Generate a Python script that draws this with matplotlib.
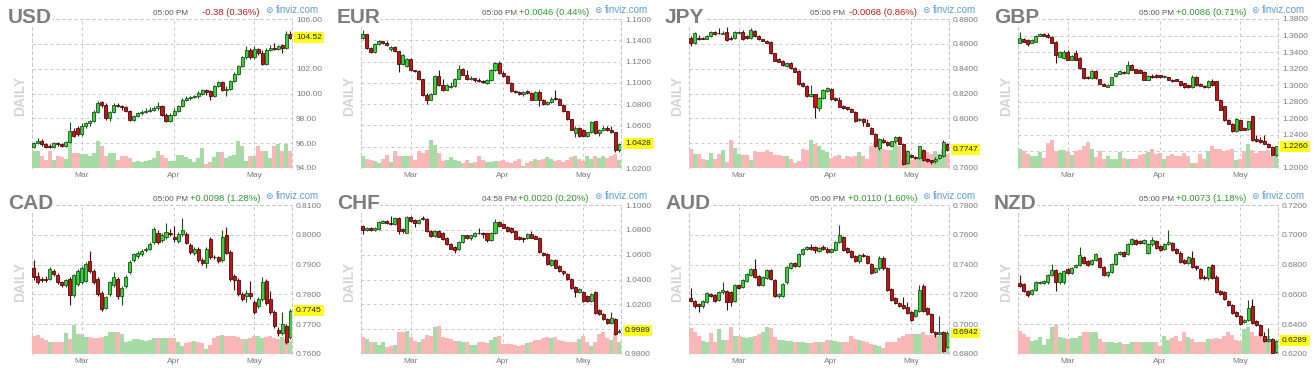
import matplotlib
matplotlib.use("Agg")
import matplotlib.pyplot as plt

W, H = 1315, 376
plt.rcParams['font.family'] = ['Liberation Sans', 'DejaVu Sans']

# ---------------- data ----------------
months = ["Mar", "Apr", "May"]
month_pos = [12, 35, 55]          # candle index of first trading day of month

names = ["USD", "EUR", "JPY", "GBP", "CAD", "CHF", "AUD", "NZD"]
times = ["05:00 PM", "05:00 PM", "05:00 PM", "05:00 PM",
         "05:00 PM", "04:58 PM", "05:00 PM", "05:00 PM"]
changes = ["-0.38 (0.36%)", "+0.0046 (0.44%)", "-0.0068 (0.86%)", "+0.0086 (0.71%)",
           "+0.0098 (1.28%)", "+0.0020 (0.20%)", "+0.0110 (1.60%)", "+0.0073 (1.18%)"]
last_labels = ["104.52", "1.0428", "0.7747", "1.2260", "0.7745", "0.9989", "0.6942", "0.6289"]

usd_ticks = [94, 96, 98, 100, 102, 104, 106]
eur_ticks = [1.02, 1.04, 1.06, 1.08, 1.10, 1.12, 1.14, 1.16]
jpy_ticks = [0.76, 0.78, 0.80, 0.82, 0.84, 0.86, 0.88]
gbp_ticks = [1.20, 1.22, 1.24, 1.26, 1.28, 1.30, 1.32, 1.34, 1.36, 1.38]
cad_ticks = [0.76, 0.77, 0.78, 0.79, 0.80, 0.81]
chf_ticks = [0.98, 1.00, 1.02, 1.04, 1.06, 1.08, 1.10]
aud_ticks = [0.68, 0.70, 0.72, 0.74, 0.76, 0.78]
nzd_ticks = [0.62, 0.64, 0.66, 0.68, 0.70, 0.72]
tick_decimals = [2, 4, 4, 4, 4, 4, 4, 4]

# (open, high, low, close)
usd_ohlc = [
(95.7,96.1,95.6,96.0),(96.0,96.4,95.9,96.2),(96.2,96.3,95.8,95.9),(95.9,96.0,95.6,95.7),(95.8,95.9,95.6,95.7),
(95.7,96.1,95.6,96.0),(96.0,96.1,95.8,95.9),(95.9,96.0,95.7,95.8),(95.8,96.2,95.7,96.1),(96.1,97.7,96.0,97.0),
(97.0,97.2,96.5,96.6),(97.2,97.4,96.6,96.7),(96.7,97.6,96.6,97.4),(97.4,97.7,97.2,97.6),(97.6,97.9,97.4,97.8),
(97.8,98.7,97.7,98.5),(98.5,99.4,98.4,99.2),(99.3,99.4,98.9,99.1),(99.1,99.2,97.9,98.0),(98.0,98.6,97.8,98.5),
(98.5,99.2,98.4,99.1),(99.1,99.2,98.9,99.0),(99.0,99.1,98.7,98.9),(98.9,99.0,98.5,98.6),(98.6,98.7,97.8,97.9),
(97.9,98.3,97.8,98.2),(98.2,98.5,98.1,98.4),(98.4,98.7,98.3,98.5),(98.5,98.8,98.4,98.6),(98.6,98.9,98.5,98.7),
(98.7,99.0,98.6,98.8),(98.8,99.3,98.7,99.0),(99.0,99.1,98.2,98.3),(98.3,98.4,97.7,97.8),(97.8,98.4,97.7,98.3),
(98.3,98.8,98.2,98.6),(98.6,99.1,98.5,99.0),(99.0,99.6,98.9,99.5),(99.5,99.8,99.4,99.6),(99.6,99.8,99.5,99.7),
(99.7,99.9,99.6,99.8),(99.8,100.2,99.6,100.0),(100.0,100.4,99.9,100.3),(100.3,100.4,99.9,100.1),(100.2,100.3,99.5,99.8),
(99.8,100.7,99.7,100.6),(100.6,101.0,100.5,100.9),(100.9,101.0,100.2,100.3),(100.3,100.6,99.8,100.4),(100.4,101.1,100.3,101.0),
(101.0,101.7,100.9,101.6),(101.6,102.3,101.5,102.2),(102.2,103.0,102.1,102.9),(102.9,103.8,102.8,103.5),(103.5,103.7,102.8,102.9),
(102.9,103.8,102.8,103.6),(103.6,103.7,103.1,103.3),(103.3,103.5,102.3,102.4),(102.4,103.7,102.3,103.5),(103.5,103.9,103.4,103.7),
(103.7,104.1,103.5,103.6),(103.6,103.9,103.5,103.8),(103.9,104.0,103.3,103.7),(103.7,105.0,103.6,104.8),(104.8,105.0,104.4,104.5)]

eur_ohlc = [
(1.1425,1.1495,1.1415,1.1455),(1.1455,1.1460,1.1320,1.1325),(1.1325,1.1335,1.1280,1.1288),(1.1288,1.1375,1.1282,1.1365),(1.1365,1.1398,1.1358,1.1390),
(1.1390,1.1395,1.1365,1.1372),(1.1372,1.1392,1.1350,1.1356),(1.1318,1.1345,1.1300,1.1336),(1.1336,1.1342,1.1288,1.1295),(1.1295,1.1300,1.1106,1.1180),
(1.1180,1.1275,1.1172,1.1265),(1.1160,1.1230,1.1150,1.1225),(1.1225,1.1232,1.1110,1.1118),(1.1118,1.1125,1.1100,1.1112),(1.1112,1.1118,1.1025,1.1035),
(1.1035,1.1040,1.0880,1.0890),(1.0890,1.0905,1.0805,1.0840),(1.0840,1.0905,1.0835,1.0900),(1.0900,1.1075,1.0895,1.1065),(1.1065,1.1125,1.0970,1.0980),
(1.0980,1.1040,1.0925,1.0935),(1.0935,1.0985,1.0930,1.0978),(1.0965,1.1010,1.0955,1.0972),(1.0972,1.1045,1.0965,1.1040),(1.1040,1.1165,1.1035,1.1130),
(1.1130,1.1140,1.1070,1.1075),(1.1075,1.1120,1.1030,1.1035),(1.1035,1.1060,1.1030,1.1042),(1.1042,1.1050,1.1010,1.1028),(1.1028,1.1045,1.1005,1.1018),
(1.1018,1.1030,1.0995,1.1010),(1.1000,1.1040,1.0985,1.1025),(1.1025,1.1130,1.1020,1.1120),(1.1120,1.1200,1.1110,1.1190),(1.1190,1.1205,1.1080,1.1090),
(1.1090,1.1110,1.1055,1.1060),(1.1060,1.1070,1.0990,1.0998),(1.0998,1.1005,1.0915,1.0920),(1.0920,1.0935,1.0905,1.0913),(1.0913,1.0925,1.0890,1.0897),
(1.0897,1.0920,1.0880,1.0910),(1.0920,1.0932,1.0895,1.0903),(1.0903,1.0910,1.0835,1.0840),(1.0840,1.0925,1.0835,1.0910),(1.0910,1.0935,1.0780,1.0840),
(1.0840,1.0848,1.0795,1.0800),(1.0800,1.0825,1.0790,1.0820),(1.0820,1.0870,1.0815,1.0853),(1.0860,1.0935,1.0840,1.0847),(1.0847,1.0855,1.0790,1.0794),
(1.0794,1.0800,1.0725,1.0731),(1.0731,1.0740,1.0655,1.0660),(1.0660,1.0665,1.0555,1.0560),(1.0530,1.0590,1.0490,1.0575),(1.0575,1.0585,1.0495,1.0503),
(1.0560,1.0570,1.0498,1.0503),(1.0503,1.0540,1.0495,1.0534),(1.0534,1.0640,1.0525,1.0628),(1.0638,1.0645,1.0515,1.0528),(1.0528,1.0565,1.0500,1.0553),
(1.0553,1.0590,1.0545,1.0575),(1.0575,1.0590,1.0545,1.0553),(1.0553,1.0590,1.0525,1.0534),(1.0534,1.0540,1.0355,1.0366),(1.0366,1.0435,1.0350,1.0428)]

jpy_ohlc = [
(0.8645,0.8660,0.8585,0.8605),(0.8605,0.8695,0.8600,0.8685),(0.8650,0.8670,0.8630,0.8637),(0.8645,0.8655,0.8635,0.8640),(0.8640,0.8670,0.8635,0.8663),
(0.8663,0.8705,0.8655,0.8698),(0.8693,0.8705,0.8675,0.8682),(0.8690,0.8725,0.8680,0.8685),(0.8682,0.8700,0.8678,0.8690),(0.8698,0.8735,0.8625,0.8632),
(0.8650,0.8660,0.8630,0.8637),(0.8645,0.8705,0.8640,0.8698),(0.8690,0.8705,0.8685,0.8698),(0.8698,0.8710,0.8630,0.8637),(0.8663,0.8670,0.8640,0.8645),
(0.8645,0.8725,0.8640,0.8712),(0.8706,0.8715,0.8655,0.8663),(0.8663,0.8670,0.8630,0.8637),(0.8637,0.8642,0.8620,0.8626),(0.8626,0.8630,0.8605,0.8610),
(0.8618,0.8625,0.8520,0.8524),(0.8524,0.8530,0.8460,0.8465),(0.8476,0.8482,0.8450,0.8457),(0.8462,0.8470,0.8425,0.8430),(0.8425,0.8450,0.8415,0.8444),
(0.8444,0.8450,0.8400,0.8404),(0.8404,0.8410,0.8372,0.8377),(0.8382,0.8388,0.8272,0.8278),(0.8283,0.8290,0.8255,0.8262),(0.8262,0.8270,0.8175,0.8181),
(0.8181,0.8270,0.8175,0.8195),(0.8195,0.8200,0.8002,0.8095),(0.8082,0.8170,0.8060,0.8162),(0.8162,0.8240,0.8155,0.8229),(0.8224,0.8250,0.8215,0.8243),
(0.8235,0.8245,0.8150,0.8154),(0.8162,0.8170,0.8140,0.8149),(0.8149,0.8175,0.8090,0.8095),(0.8101,0.8108,0.8075,0.8082),(0.8090,0.8095,0.8065,0.8074),
(0.8074,0.8082,0.8048,0.8055),(0.8055,0.8062,0.7968,0.7975),(0.7983,0.8000,0.7975,0.7994),(0.7994,0.8000,0.7935,0.7967),(0.7962,0.7998,0.7935,0.7940),
(0.7921,0.7930,0.7870,0.7876),(0.7876,0.7882,0.7768,0.7774),(0.7761,0.7840,0.7745,0.7833),(0.7828,0.7840,0.7800,0.7806),(0.7806,0.7815,0.7780,0.7787),
(0.7774,0.7820,0.7768,0.7814),(0.7814,0.7860,0.7805,0.7849),(0.7849,0.7855,0.7790,0.7795),(0.7795,0.7802,0.7628,0.7635),(0.7640,0.7742,0.7632,0.7734),
(0.7707,0.7715,0.7682,0.7689),(0.7689,0.7695,0.7675,0.7680),(0.7680,0.7780,0.7672,0.7774),(0.7747,0.7755,0.7660,0.7667),(0.7672,0.7678,0.7650,0.7656),
(0.7662,0.7668,0.7630,0.7651),(0.7653,0.7690,0.7640,0.7672),(0.7680,0.7715,0.7672,0.7707),(0.7694,0.7825,0.7688,0.7806),(0.7795,0.7805,0.7740,0.7747)]

gbp_ohlc = [
(1.3515,1.3640,1.3505,1.3567),(1.3555,1.3570,1.3520,1.3527),(1.3547,1.3555,1.3470,1.3495),(1.3515,1.3555,1.3505,1.3547),(1.3527,1.3605,1.3520,1.3596),
(1.3596,1.3630,1.3590,1.3620),(1.3615,1.3630,1.3590,1.3596),(1.3607,1.3630,1.3570,1.3579),(1.3579,1.3590,1.3505,1.3515),(1.3527,1.3535,1.3270,1.3366),
(1.3346,1.3415,1.3335,1.3406),(1.3326,1.3430,1.3318,1.3406),(1.3406,1.3430,1.3300,1.3306),(1.3306,1.3360,1.3300,1.3354),(1.3394,1.3420,1.3300,1.3306),
(1.3326,1.3335,1.3200,1.3205),(1.3205,1.3210,1.3080,1.3085),(1.3105,1.3112,1.3078,1.3085),(1.3085,1.3185,1.3080,1.3177),(1.3177,1.3185,1.3080,1.3085),
(1.3073,1.3080,1.3010,1.3017),(1.3017,1.3022,1.2985,1.2992),(1.2984,1.3010,1.2978,1.3004),(1.3004,1.3105,1.2998,1.3097),(1.3113,1.3150,1.3105,1.3145),
(1.3137,1.3185,1.3130,1.3177),(1.3165,1.3172,1.3138,1.3145),(1.3145,1.3290,1.3140,1.3246),(1.3246,1.3252,1.3178,1.3185),(1.3193,1.3200,1.3148,1.3153),
(1.3185,1.3192,1.3148,1.3153),(1.3165,1.3172,1.3058,1.3065),(1.3065,1.3120,1.3060,1.3113),(1.3113,1.3130,1.3090,1.3097),(1.3125,1.3132,1.3090,1.3097),
(1.3121,1.3128,1.3090,1.3097),(1.3097,1.3125,1.3090,1.3113),(1.3097,1.3103,1.3058,1.3065),(1.3065,1.3070,1.3042,1.3049),(1.3073,1.3080,1.3046,1.3053),
(1.3045,1.3050,1.2996,1.3004),(1.3025,1.3032,1.2970,1.2976),(1.3004,1.3010,1.2970,1.2976),(1.2976,1.3125,1.2970,1.3097),(1.3105,1.3112,1.2996,1.3004),
(1.3017,1.3024,1.2986,1.2992),(1.2992,1.2998,1.2970,1.2976),(1.2976,1.3060,1.2970,1.3053),(1.3053,1.3080,1.2996,1.3004),(1.3045,1.3052,1.2818,1.2824),
(1.2824,1.2830,1.2696,1.2703),(1.2743,1.2750,1.2568,1.2575),(1.2583,1.2590,1.2527,1.2534),(1.2534,1.2540,1.2435,1.2442),(1.2442,1.2600,1.2435,1.2591),
(1.2575,1.2585,1.2455,1.2462),(1.2482,1.2490,1.2455,1.2462),(1.2470,1.2570,1.2462,1.2563),(1.2623,1.2630,1.2327,1.2334),(1.2350,1.2395,1.2315,1.2322),
(1.2334,1.2380,1.2300,1.2309),(1.2322,1.2400,1.2285,1.2293),(1.2293,1.2300,1.2245,1.2253),(1.2253,1.2260,1.2155,1.2161),(1.2161,1.2270,1.2150,1.2260)]

cad_ohlc = [
(0.7890,0.7915,0.7850,0.7857),(0.7862,0.7875,0.7835,0.7840),(0.7851,0.7860,0.7843,0.7848),(0.7853,0.7862,0.7843,0.7848),(0.7853,0.7892,0.7848,0.7885),
(0.7879,0.7885,0.7862,0.7868),(0.7865,0.7872,0.7835,0.7840),(0.7840,0.7845,0.7826,0.7831),(0.7831,0.7852,0.7826,0.7848),(0.7851,0.7858,0.7765,0.7798),
(0.7798,0.7870,0.7792,0.7865),(0.7834,0.7885,0.7828,0.7879),(0.7842,0.7895,0.7836,0.7890),(0.7846,0.7908,0.7840,0.7901),(0.7913,0.7945,0.7873,0.7879),
(0.7879,0.7885,0.7836,0.7842),(0.7851,0.7858,0.7795,0.7801),(0.7806,0.7812,0.7745,0.7751),(0.7756,0.7795,0.7750,0.7790),(0.7801,0.7845,0.7795,0.7840),
(0.7831,0.7875,0.7825,0.7860),(0.7851,0.7858,0.7786,0.7793),(0.7795,0.7828,0.7765,0.7823),(0.7829,0.7866,0.7822,0.7860),(0.7876,0.7914,0.7870,0.7909),
(0.7916,0.7940,0.7910,0.7935),(0.7929,0.7944,0.7922,0.7938),(0.7935,0.7952,0.7928,0.7946),(0.7949,0.7960,0.7942,0.7954),(0.7954,0.7975,0.7948,0.7968),
(0.7976,0.8025,0.7970,0.8019),(0.8007,0.8015,0.7970,0.7976),(0.7983,0.8005,0.7976,0.7999),(0.7991,0.8040,0.7985,0.8010),(0.8007,0.8020,0.7995,0.8002),
(0.7991,0.8030,0.7975,0.7987),(0.7979,0.8010,0.7972,0.8002),(0.8002,0.8055,0.7995,0.8016),(0.8002,0.8008,0.7968,0.7974),(0.7965,0.7972,0.7937,0.7943),
(0.7938,0.7958,0.7932,0.7952),(0.7952,0.7958,0.7910,0.7916),(0.7916,0.7922,0.7900,0.7907),(0.7907,0.7960,0.7888,0.7954),(0.7985,0.7992,0.7920,0.7927),
(0.7927,0.7933,0.7918,0.7924),(0.7924,0.7930,0.7906,0.7913),(0.7916,0.8015,0.7910,0.7994),(0.7998,0.8025,0.7934,0.7940),(0.7943,0.7950,0.7845,0.7851),
(0.7862,0.7868,0.7815,0.7849),(0.7849,0.7855,0.7795,0.7801),(0.7801,0.7808,0.7778,0.7784),(0.7795,0.7815,0.7775,0.7804),(0.7804,0.7845,0.7786,0.7793),
(0.7775,0.7782,0.7735,0.7742),(0.7762,0.7790,0.7755,0.7784),(0.7784,0.7860,0.7778,0.7842),(0.7846,0.7852,0.7765,0.7771),(0.7784,0.7810,0.7735,0.7742),
(0.7742,0.7748,0.7688,0.7695),(0.7681,0.7690,0.7660,0.7672),(0.7672,0.7740,0.7665,0.7700),(0.7695,0.7702,0.7634,0.7641),(0.7656,0.7752,0.7650,0.7745)]

chf_ohlc = [
(1.0831,1.0840,1.0765,1.0799),(1.0799,1.0822,1.0790,1.0818),(1.0818,1.0825,1.0792,1.0799),(1.0799,1.0820,1.0792,1.0815),(1.0804,1.0868,1.0798,1.0863),
(1.0858,1.0880,1.0852,1.0871),(1.0871,1.0878,1.0845,1.0853),(1.0858,1.0915,1.0838,1.0845),(1.0845,1.0905,1.0838,1.0898),(1.0898,1.0905,1.0770,1.0791),
(1.0810,1.0818,1.0775,1.0791),(1.0778,1.0912,1.0772,1.0906),(1.0906,1.0912,1.0862,1.0871),(1.0879,1.0885,1.0820,1.0858),(1.0853,1.0890,1.0846,1.0879),
(1.0898,1.0912,1.0878,1.0885),(1.0890,1.0898,1.0785,1.0791),(1.0791,1.0798,1.0745,1.0751),(1.0751,1.0798,1.0745,1.0791),(1.0791,1.0798,1.0740,1.0746),
(1.0778,1.0785,1.0722,1.0730),(1.0737,1.0745,1.0677,1.0684),(1.0684,1.0690,1.0642,1.0649),(1.0665,1.0672,1.0615,1.0638),(1.0644,1.0710,1.0638,1.0703),
(1.0703,1.0762,1.0696,1.0756),(1.0756,1.0762,1.0730,1.0737),(1.0737,1.0762,1.0720,1.0756),(1.0751,1.0784,1.0745,1.0778),(1.0778,1.0815,1.0765,1.0772),
(1.0778,1.0785,1.0735,1.0764),(1.0772,1.0778,1.0700,1.0719),(1.0719,1.0785,1.0712,1.0778),(1.0772,1.0885,1.0765,1.0863),(1.0863,1.0870,1.0825,1.0831),
(1.0845,1.0852,1.0812,1.0818),(1.0826,1.0832,1.0785,1.0791),(1.0818,1.0825,1.0776,1.0783),(1.0791,1.0798,1.0724,1.0730),(1.0746,1.0752,1.0718,1.0724),
(1.0738,1.0745,1.0700,1.0730),(1.0738,1.0775,1.0730,1.0764),(1.0764,1.0790,1.0731,1.0738),(1.0751,1.0758,1.0724,1.0730),(1.0738,1.0745,1.0615,1.0622),
(1.0617,1.0624,1.0590,1.0596),(1.0604,1.0610,1.0516,1.0523),(1.0515,1.0565,1.0508,1.0558),(1.0558,1.0565,1.0489,1.0496),(1.0510,1.0517,1.0463,1.0470),
(1.0470,1.0476,1.0440,1.0451),(1.0443,1.0450,1.0396,1.0403),(1.0403,1.0410,1.0321,1.0328),(1.0336,1.0345,1.0260,1.0301),(1.0301,1.0330,1.0294,1.0322),
(1.0301,1.0308,1.0222,1.0229),(1.0269,1.0276,1.0222,1.0229),(1.0229,1.0290,1.0222,1.0282),(1.0301,1.0310,1.0122,1.0129),(1.0156,1.0163,1.0114,1.0121),
(1.0121,1.0128,1.0074,1.0081),(1.0081,1.0088,1.0042,1.0049),(1.0049,1.0140,1.0042,1.0087),(1.0081,1.0088,0.9954,0.9961),(0.9974,1.0000,0.9966,0.9989)]

aud_ohlc = [
(0.7173,0.7245,0.7150,0.7157),(0.7157,0.7165,0.7112,0.7119),(0.7135,0.7142,0.7085,0.7119),(0.7119,0.7162,0.7112,0.7157),(0.7150,0.7214,0.7143,0.7208),
(0.7202,0.7210,0.7185,0.7191),(0.7195,0.7202,0.7150,0.7157),(0.7164,0.7223,0.7157,0.7217),(0.7213,0.7285,0.7206,0.7231),(0.7224,0.7231,0.7097,0.7146),
(0.7217,0.7224,0.7120,0.7150),(0.7157,0.7268,0.7150,0.7262),(0.7262,0.7270,0.7233,0.7240),(0.7253,0.7304,0.7246,0.7298),(0.7291,0.7342,0.7284,0.7336),
(0.7329,0.7375,0.7322,0.7369),(0.7369,0.7440,0.7313,0.7320),(0.7325,0.7332,0.7255,0.7262),(0.7262,0.7326,0.7255,0.7320),(0.7313,0.7371,0.7306,0.7365),
(0.7365,0.7372,0.7295,0.7302),(0.7298,0.7305,0.7184,0.7191),(0.7191,0.7208,0.7175,0.7202),(0.7191,0.7275,0.7184,0.7269),(0.7280,0.7393,0.7273,0.7387),
(0.7380,0.7415,0.7373,0.7409),(0.7409,0.7416,0.7384,0.7391),(0.7391,0.7476,0.7384,0.7470),(0.7470,0.7514,0.7463,0.7508),(0.7503,0.7527,0.7496,0.7521),
(0.7521,0.7540,0.7501,0.7508),(0.7521,0.7528,0.7480,0.7499),(0.7492,0.7520,0.7485,0.7514),(0.7521,0.7530,0.7500,0.7508),(0.7508,0.7515,0.7478,0.7485),
(0.7485,0.7509,0.7478,0.7503),(0.7499,0.7558,0.7492,0.7552),(0.7552,0.7665,0.7545,0.7597),(0.7588,0.7595,0.7492,0.7499),(0.7514,0.7521,0.7478,0.7485),
(0.7492,0.7499,0.7447,0.7454),(0.7458,0.7465,0.7418,0.7425),(0.7425,0.7470,0.7410,0.7463),(0.7465,0.7475,0.7448,0.7458),(0.7458,0.7465,0.7402,0.7409),
(0.7403,0.7410,0.7335,0.7342),(0.7351,0.7386,0.7344,0.7380),(0.7374,0.7455,0.7367,0.7447),(0.7447,0.7460,0.7367,0.7374),(0.7374,0.7381,0.7224,0.7231),
(0.7235,0.7242,0.7157,0.7164),(0.7173,0.7180,0.7135,0.7142),(0.7142,0.7149,0.7117,0.7124),(0.7128,0.7180,0.7099,0.7106),(0.7113,0.7150,0.7068,0.7075),
(0.7079,0.7086,0.7023,0.7030),(0.7052,0.7103,0.7045,0.7097),(0.7090,0.7265,0.7083,0.7231),(0.7258,0.7272,0.7083,0.7090),(0.7106,0.7113,0.7061,0.7068),
(0.7068,0.7075,0.6943,0.6950),(0.6945,0.6952,0.6915,0.6934),(0.6934,0.7055,0.6927,0.6950),(0.6950,0.6957,0.6815,0.6822),(0.6845,0.6955,0.6838,0.6942)]

nzd_ohlc = [
(0.6675,0.6730,0.6650,0.6658),(0.6669,0.6676,0.6617,0.6624),(0.6624,0.6631,0.6585,0.6595),(0.6602,0.6638,0.6595,0.6631),(0.6631,0.6687,0.6624,0.6680),
(0.6675,0.6691,0.6668,0.6684),(0.6675,0.6698,0.6668,0.6691),(0.6680,0.6736,0.6673,0.6729),(0.6729,0.6805,0.6722,0.6765),(0.6765,0.6772,0.6625,0.6680),
(0.6680,0.6749,0.6673,0.6742),(0.6680,0.6765,0.6673,0.6758),(0.6769,0.6776,0.6735,0.6742),(0.6742,0.6781,0.6735,0.6774),(0.6781,0.6804,0.6774,0.6797),
(0.6797,0.6920,0.6790,0.6863),(0.6854,0.6861,0.6802,0.6809),(0.6825,0.6832,0.6790,0.6797),(0.6803,0.6839,0.6796,0.6832),(0.6832,0.6877,0.6825,0.6870),
(0.6847,0.6854,0.6779,0.6786),(0.6786,0.6793,0.6722,0.6729),(0.6729,0.6758,0.6715,0.6751),(0.6751,0.6810,0.6744,0.6803),(0.6803,0.6877,0.6796,0.6870),
(0.6870,0.6892,0.6863,0.6885),(0.6885,0.6892,0.6851,0.6858),(0.6870,0.6944,0.6863,0.6937),(0.6937,0.6977,0.6930,0.6970),(0.6966,0.6973,0.6930,0.6937),
(0.6959,0.6966,0.6936,0.6943),(0.6943,0.6973,0.6936,0.6966),(0.6875,0.6942,0.6868,0.6935),(0.6935,0.6985,0.6928,0.6966),(0.6959,0.6966,0.6907,0.6914),
(0.6925,0.6932,0.6892,0.6899),(0.6908,0.6944,0.6901,0.6937),(0.6937,0.7030,0.6930,0.6952),(0.6943,0.6950,0.6892,0.6899),(0.6903,0.6910,0.6874,0.6881),
(0.6881,0.6888,0.6811,0.6818),(0.6832,0.6839,0.6802,0.6809),(0.6809,0.6861,0.6802,0.6854),(0.6847,0.6890,0.6774,0.6781),(0.6792,0.6799,0.6767,0.6774),
(0.6769,0.6776,0.6706,0.6713),(0.6720,0.6727,0.6700,0.6707),(0.6707,0.6793,0.6700,0.6786),(0.6795,0.6802,0.6706,0.6713),(0.6720,0.6727,0.6610,0.6617),
(0.6624,0.6631,0.6595,0.6602),(0.6617,0.6624,0.6561,0.6568),(0.6557,0.6564,0.6521,0.6528),(0.6528,0.6535,0.6468,0.6475),(0.6479,0.6486,0.6445,0.6452),
(0.6452,0.6459,0.6394,0.6401),(0.6413,0.6437,0.6406,0.6430),(0.6430,0.6560,0.6423,0.6506),(0.6524,0.6570,0.6401,0.6408),(0.6423,0.6430,0.6387,0.6394),
(0.6394,0.6401,0.6320,0.6327),(0.6323,0.6350,0.6282,0.6289),(0.6289,0.6375,0.6282,0.6300),(0.6300,0.6307,0.6200,0.6207),(0.6216,0.6296,0.6209,0.6289)]

# relative (tick) volume
usd_vol = [17,17,12,8,17,8,12,11,9,27,15,15,14,14,12,15,27,22,12,15,15,8,12,12,10,6,7,6,7,8,10,17,13,10,7,
           7,13,13,11,9,6,10,20,4,6,11,16,16,10,12,13,27,22,7,12,12,22,17,17,10,22,24,17,24,17]
eur_vol = [12,9,8,7,5,9,13,6,17,12,12,12,12,8,17,15,18,28,23,15,7,8,11,8,7,5,8,5,6,12,8,6,6,7,7,
           8,6,5,7,9,2,5,7,9,8,9,11,9,7,8,6,8,11,12,9,7,12,9,12,10,12,10,12,14,8]
jpy_vol = [19,14,14,9,8,15,9,14,18,6,28,20,14,13,13,8,17,16,16,18,16,13,13,12,12,9,5,7,19,18,28,24,22,18,16,
           10,12,13,9,12,11,12,16,12,9,22,26,20,19,18,18,26,22,8,8,8,10,10,14,16,14,17,14,19,14]
gbp_vol = [19,17,14,12,12,16,10,25,28,17,18,18,16,13,17,18,22,26,19,11,17,9,12,9,9,16,10,9,9,9,13,14,16,19,14,
           15,9,12,14,12,12,15,12,5,5,14,9,17,22,19,19,17,18,19,8,9,17,24,18,15,17,17,18,12,12]
cad_vol = [18,19,16,14,12,12,12,12,21,15,29,20,20,17,17,16,16,17,18,22,22,22,20,12,13,15,15,14,13,14,16,16,16,16,16,
           16,12,8,11,12,13,12,11,5,9,16,18,19,18,18,18,17,15,15,16,18,18,16,17,18,16,15,17,15,13]
chf_vol = [17,15,12,12,9,12,7,8,9,22,22,23,17,13,12,15,19,18,27,28,17,16,15,13,13,12,12,9,9,12,12,11,14,17,18,
           10,10,10,9,8,9,11,12,14,14,16,17,16,17,14,13,12,12,12,15,18,12,8,12,20,22,16,14,22,12]
aud_vol = [26,22,18,13,12,21,12,25,14,14,27,18,18,17,16,17,18,20,22,27,26,17,14,14,13,13,12,12,12,11,11,12,12,12,14,
           14,13,12,12,12,18,15,14,13,12,10,9,8,6,12,12,12,16,18,20,20,20,20,22,19,19,19,18,20,12]
nzd_vol = [23,20,17,13,14,17,9,15,27,29,17,16,15,16,16,18,22,22,22,22,15,12,12,12,11,12,10,10,12,12,12,12,12,12,12,
           8,18,14,16,18,13,22,17,15,12,12,12,15,15,16,15,18,22,19,14,13,25,27,22,18,22,18,18,12,12]

ohlc_sets = [usd_ohlc, eur_ohlc, jpy_ohlc, gbp_ohlc, cad_ohlc, chf_ohlc, aud_ohlc, nzd_ohlc]
vol_sets = [usd_vol, eur_vol, jpy_vol, gbp_vol, cad_vol, chf_vol, aud_vol, nzd_vol]
tick_sets = [usd_ticks, eur_ticks, jpy_ticks, gbp_ticks, cad_ticks, chf_ticks, aud_ticks, nzd_ticks]

# ---------------- styling / layout ----------------
UP_FACE, UP_EDGE = '#36d436', '#1d4f1d'
DN_FACE, DN_EDGE = '#c41414', '#4a0808'
VOL_UP, VOL_DN = '#a6dba6', '#f9b7b7'
GRID_C = '#c9c9c9'
RED_TXT, GREEN_TXT = '#cc1a1a', '#2e9a2e'
DASH = (0, (3, 3))

PLOT_LEFT = [32, 361, 689, 1018]
PANEL_TOP = [0, 186]
PLOT_W, PLOT_H = 260, 149
VOL_PX = 149.0   # volume values are in pixel-like units of the plot height
LABEL_HALF_PX = 6.5  # half height of the yellow last-price box

fig = plt.figure(figsize=(W / 100, H / 100), dpi=100)
fig.patch.set_facecolor('white')

def fx(px):
    return px / W

def fy(py):
    return 1 - py / H

for k in range(8):
    col, row = k % 4, k // 4
    pl = PLOT_LEFT[col]
    ox = pl - 32
    oy = PANEL_TOP[row]
    ax = fig.add_axes([fx(pl), fy(oy + 19 + PLOT_H), PLOT_W / W, PLOT_H / H])
    ax.set_facecolor('white')

    data = ohlc_sets[k]
    vols = vol_sets[k]
    ticks = tick_sets[k]
    n = len(data)
    idx = list(range(n))
    o = [d[0] for d in data]
    h = [d[1] for d in data]
    l = [d[2] for d in data]
    c = [d[3] for d in data]
    up = [c[i] >= o[i] for i in idx]
    ylo, yhi = ticks[0], ticks[-1]

    # volume bars (bottom of chart)
    vh = [v / VOL_PX * (yhi - ylo) for v in vols]
    ax.bar(idx, vh, bottom=ylo, width=1.0, linewidth=0,
           color=[VOL_UP if u else VOL_DN for u in up], zorder=1)

    # wicks
    ax.vlines(idx, l, h, colors=[UP_EDGE if u else DN_EDGE for u in up],
              linewidth=0.8, zorder=2)
    # bodies
    bottoms = [min(o[i], c[i]) for i in idx]
    heights = [max(abs(c[i] - o[i]), (yhi - ylo) * 0.004) for i in idx]
    ax.bar(idx, heights, bottom=bottoms, width=0.76,
           color=[UP_FACE if u else DN_FACE for u in up],
           edgecolor=[UP_EDGE if u else DN_EDGE for u in up],
           linewidth=0.6, zorder=3)

    ax.set_xlim(-0.4, n - 1 + 0.4)
    ax.set_ylim(ylo, yhi)
    dec = tick_decimals[k]
    # the yellow last-price box covers the tick label right under it
    px_per_unit = PLOT_H / (yhi - ylo)
    lbls = []
    for t in ticks:
        if abs(t - c[-1]) * px_per_unit < LABEL_HALF_PX + 2:
            lbls.append("")
        else:
            lbls.append(f"{t:.{dec}f}")
    ax.set_yticks(ticks)
    ax.set_yticklabels(lbls)
    ax.set_xticks(month_pos)
    ax.set_xticklabels(months)
    ax.yaxis.tick_right()
    ax.tick_params(axis='both', length=0, labelsize=6.0, colors='#7a7a7a')
    ax.tick_params(axis='y', pad=2.9)
    ax.tick_params(axis='x', pad=3.0)
    ax.grid(True, color=GRID_C, linewidth=0.72, linestyle=DASH)
    ax.set_axisbelow(True)
    for s in ['left', 'right', 'top']:
        ax.spines[s].set_linestyle(DASH)
        ax.spines[s].set_color(GRID_C)
        ax.spines[s].set_linewidth(0.72)
        ax.spines[s].set_zorder(0.5)
    ax.spines['bottom'].set_visible(False)

    # last price yellow label
    ax.annotate(last_labels[k], xy=(1.0, c[-1]), xycoords=('axes fraction', 'data'),
                xytext=(2.9, 0), textcoords='offset points', ha='left', va='center',
                fontsize=6.0, color='#222222', zorder=10, annotation_clip=False,
                bbox=dict(boxstyle='square,pad=0.22', fc='#ffff1a', ec='none'))

    # headers
    fig.text(fx(ox + 8), fy(oy + 22.7), names[k], fontsize=15, fontweight='bold',
             color='#7d7d7d', ha='left', va='baseline',
             bbox=dict(boxstyle='square,pad=0', fc='white', ec='none'))
    fig.text(fx(ox + 20.5), fy(oy + 96), 'DAILY', rotation=90, fontsize=10,
             fontweight='bold', color='#d4d4d4', ha='center', va='center')
    fig.text(fx(ox + 153), fy(oy + 15), times[k], fontsize=5.9, color='#555555',
             ha='left', va='baseline')
    chg_col = RED_TXT if changes[k].startswith('-') else GREEN_TXT
    fig.text(fx(ox + 260), fy(oy + 14.7), changes[k], fontsize=6.8, color=chg_col,
             ha='right', va='baseline')
    fig.text(fx(ox + 268.5), fy(oy + 13), '\u229a', fontsize=6.5, color='#5b9fd0',
             ha='center', va='baseline', family=['DejaVu Sans'])
    fig.text(fx(ox + 276), fy(oy + 13.3), 'finviz.com', fontsize=7, color='#5b9fd0',
             ha='left', va='baseline')

fig.savefig('out.png', dpi=100, facecolor='white')
